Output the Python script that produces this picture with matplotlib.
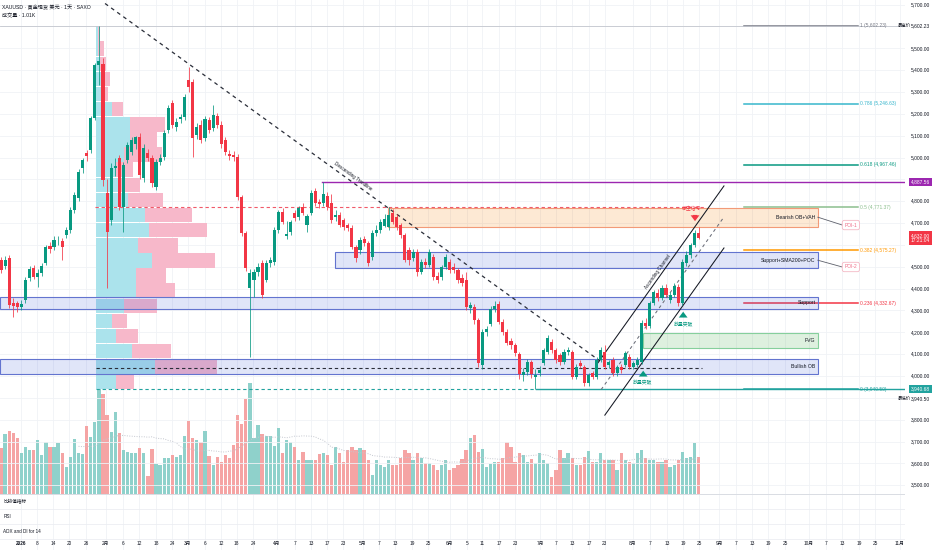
import numpy as np
import pandas as pd
import matplotlib
matplotlib.use("Agg")
import matplotlib.pyplot as plt
from matplotlib.patches import Rectangle
from matplotlib.transforms import blended_transform_factory as blend

plt.rcParams['font.family'] = ['Liberation Sans', 'Noto Sans CJK SC', 'DejaVu Sans']

# ---------------- data (daily candles, index 0 = first visible bar) ----------------
opens = [4530, 4503, 4540, 4334, 4332, 4318, 4348, 4449, 4494, 4455, 4471, 4517, 4595, 4590, 4616, 4618,
         4645, 4668, 4760, 4815, 4952, 5021, 5034, 5181, 5423, 5430, 4838, 4714, 4950, 4998, 4774, 4989,
         5025, 5060, 5094, 4906, 5021, 4998, 4865, 4979, 5002, 5126, 5250, 5140, 5176, 5185, 5355, 5346,
         5103, 5149, 5089, 5172, 5135, 5190, 5150, 5080, 5016, 5011, 5002, 4819, 4655, 4403, 4440, 4476,
         4517, 4440, 4517, 4522, 4668, 4751, 4640, 4659, 4746, 4728, 4774, 4690, 4746, 4847, 4796, 4792,
         4824, 4790, 4728, 4737, 4714, 4691, 4677, 4590, 4577, 4627, 4609, 4545, 4655, 4670, 4687, 4682,
         4746, 4728, 4691, 4645, 4577, 4540, 4568, 4476, 4522, 4510, 4545, 4460, 4453, 4499, 4522, 4500,
         4485, 4450, 4440, 4311, 4316, 4256, 4050, 4201, 4240, 4305, 4330, 4247, 4201, 4160, 4140, 4100,
         4005, 4018, 4064, 3995, 4014, 4060, 4110, 4156, 4119, 4095, 4064, 4110, 4110, 3995, 4060, 4041,
         3968, 4014, 3995, 4073, 4110, 4050, 4073, 4014, 4041, 4050, 4087, 4041, 4050, 4064, 4243, 4228,
         4334, 4380, 4357, 4403, 4348, 4371, 4407, 4334, 4517, 4554, 4600, 4655]
highs = [4545, 4550, 4555, 4355, 4345, 4348, 4452, 4502, 4508, 4488, 4515, 4600, 4612, 4640, 4640, 4632,
         4680, 4772, 4840, 4946, 5000, 5035, 5192, 5432, 5602.23, 5455, 4900, 4975, 5000, 5010, 4980, 5070,
         5095, 5100, 5110, 5060, 5040, 5010, 4995, 5015, 5125, 5240, 5265, 5180, 5200, 5290, 5414, 5360,
         5160, 5170, 5190, 5185, 5240, 5205, 5165, 5095, 5035, 5030, 5015, 4830, 4665, 4490, 4490, 4515,
         4530, 4530, 4545, 4680, 4762, 4770, 4710, 4715, 4760, 4780, 4790, 4740, 4850, 4860, 4810, 4888,
         4840, 4835, 4760, 4750, 4725, 4700, 4690, 4600, 4635, 4640, 4620, 4670, 4690, 4720, 4740, 4775,
         4765, 4740, 4700, 4655, 4590, 4580, 4580, 4535, 4540, 4580, 4560, 4475, 4510, 4560, 4535, 4515,
         4495, 4465, 4475, 4340, 4330, 4265, 4215, 4230, 4320, 4345, 4345, 4260, 4215, 4175, 4150, 4110,
         4035, 4080, 4075, 4030, 4045, 4130, 4190, 4170, 4130, 4105, 4125, 4135, 4120, 4055, 4075, 4050,
         4015, 4025, 4085, 4135, 4140, 4075, 4085, 4050, 4055, 4115, 4100, 4070, 4085, 4255, 4265, 4345,
         4395, 4400, 4415, 4420, 4385, 4425, 4420, 4535, 4570, 4610, 4668, 4682]
lows = [4470, 4490, 4310, 4270, 4295, 4300, 4335, 4435, 4445, 4407, 4460, 4508, 4565, 4578, 4598, 4531,
        4630, 4655, 4748, 4800, 4930, 4985, 5020, 5170, 5330, 4870, 4403, 4690, 4915, 4760, 4659, 4975,
        5010, 5040, 4900, 4890, 4985, 4865, 4850, 4965, 4990, 5110, 5135, 5120, 5160, 5172, 5300, 5002,
        5085, 5065, 5075, 5110, 5120, 5135, 5045, 5010, 4990, 4985, 4805, 4640, 4480, 4087, 4360, 4460,
        4355, 4430, 4500, 4510, 4655, 4695, 4625, 4645, 4710, 4715, 4735, 4660, 4735, 4780, 4770, 4780,
        4760, 4700, 4710, 4680, 4670, 4665, 4580, 4520, 4560, 4595, 4505, 4530, 4640, 4655, 4680, 4670,
        4695, 4670, 4630, 4520, 4510, 4525, 4460, 4465, 4495, 4500, 4440, 4425, 4440, 4490, 4470, 4470,
        4425, 4410, 4300, 4290, 4240, 4040, 4030, 4185, 4230, 4295, 4240, 4190, 4140, 4125, 4090, 3985,
        3975, 4005, 3990, 3940.5, 4000, 4050, 4100, 4105, 4060, 4050, 4055, 4095, 3985, 3985, 4035, 3955,
        3955, 3985, 3985, 4065, 4030, 4035, 4000, 4000, 4015, 4040, 4030, 4030, 4040, 4055, 4215, 4220,
        4325, 4345, 4350, 4360, 4335, 4360, 4320, 4325, 4505, 4540, 4590, 4625]
closes = [4485, 4531, 4325, 4320, 4316, 4330, 4439, 4490, 4453, 4470, 4503, 4590, 4581, 4622, 4618, 4590,
          4668, 4760, 4828, 4934, 4989, 5007, 5181, 5423, 5440, 4897, 4660, 4952, 4962, 4774, 4966, 5057,
          5080, 5094, 4920, 5044, 4998, 4883, 4979, 4998, 5112, 5227, 5149, 5163, 5185, 5277, 5323, 5089,
          5140, 5080, 5176, 5126, 5195, 5150, 5060, 5025, 5007, 5002, 4819, 4655, 4494, 4471, 4476, 4499,
          4371, 4517, 4530, 4668, 4751, 4705, 4652, 4705, 4723, 4769, 4746, 4732, 4838, 4792, 4787, 4833,
          4774, 4714, 4737, 4691, 4682, 4677, 4590, 4540, 4622, 4609, 4517, 4655, 4668, 4705, 4719, 4737,
          4705, 4682, 4645, 4531, 4531, 4568, 4476, 4522, 4508, 4568, 4453, 4440, 4499, 4545, 4485, 4485,
          4439, 4426, 4316, 4325, 4256, 4059, 4201, 4215, 4305, 4320, 4247, 4201, 4151, 4140, 4105, 4010,
          4018, 4064, 4010, 4005, 4027, 4119, 4174, 4119, 4073, 4064, 4110, 4119, 3995, 4041, 4045, 3968,
          4005, 3995, 4073, 4119, 4041, 4064, 4014, 4041, 4027, 4105, 4041, 4059, 4073, 4243, 4228, 4334,
          4384, 4357, 4403, 4371, 4371, 4412, 4334, 4522, 4554, 4600, 4655, 4632]
volumes_k = [46, 60, 63, 61, 56, 41, 47, 44, 44, 54, 39, 52, 47, 47, 51, 41, 27, 37, 55, 41, 40, 68, 57, 72,
             109, 100, 79, 62, 82, 61, 44, 42, 41, 41, 46, 41, 18, 45, 30, 29, 36, 36, 39, 37, 39, 58, 73, 56,
             54, 52, 63, 38, 29, 37, 32, 39, 36, 49, 79, 70, 95, 111, 56, 69, 60, 58, 58, 48, 66, 41, 54, 52,
             47, 34, 42, 34, 34, 34, 40, 41, 39, 29, 47, 41, 32, 44, 47, 44, 46, 44, 34, 19, 34, 29, 27, 34,
             29, 29, 36, 44, 41, 34, 41, 36, 31, 31, 29, 24, 29, 34, 24, 26, 29, 35, 44, 56, 59, 42, 45, 27,
             30, 32, 32, 36, 52, 47, 32, 41, 39, 32, 35, 31, 41, 34, 31, 17, 24, 44, 36, 41, 36, 29, 29, 37,
             43, 32, 32, 41, 34, 34, 34, 24, 41, 34, 32, 31, 41, 44, 36, 34, 34, 32, 32, 34, 27, 29, 34, 42,
             36, 37, 51, 37]

# fixed-range volume profile (rows from low to high)
profile_up = [20, 59, 36, 20, 16, 28, 40, 40, 56, 42, 53, 49, 32, 22, 20, 28, 34, 34, 16, 6, 6, 4, 2, 2]
profile_down = [18, 62, 39, 22, 15, 33, 39, 30, 63, 40, 58, 47, 35, 22, 17, 38, 27, 35, 11, 6, 8, 6, 6, 2]
profile_low, profile_high = 3940.50, 5602.23

price_ticks = [5700, 5500, 5400, 5300, 5200, 5100, 5000, 4800, 4700, 4500, 4400, 4300, 4200, 4100, 4000,
               3800, 3700, 3600, 3500]
grid_prices = list(range(3500, 5800, 100))

date_labels = ['2026', '8', '14', '20', '26', '2月', '6', '12', '18', '24', '3月', '6', '12', '18', '24',
               '4月', '7', '13', '17', '23', '5月', '7', '13', '19', '25', '6月', '5', '11', '17', '23',
               '7月', '7', '13', '17', '23', '8月', '7', '13', '19', '25', '9月', '7', '13', '19', '25',
               '10月', '7', '13', '19', '25', '11月']
date_pos = [4.9, 8.8, 12.7, 16.7, 20.8, 25.7, 29.9, 33.8, 38.0, 41.9, 45.8, 50.0, 53.9, 57.8, 61.8,
            67.6, 72.1, 76.0, 79.9, 83.8, 88.7, 92.6, 96.6, 100.7, 104.7, 110.0, 114.2, 117.9, 122.1, 126.0,
            132.1, 136.0, 140.0, 144.1, 148.0, 154.9, 159.1, 163.2, 167.2, 171.1, 176.0, 180.1, 184.1, 188.0,
            192.2, 198.0, 202.2, 206.1, 210.3, 214.2, 220.3]

fib_ratios = ['1', '0.786', '0.618', '0.5', '0.382', '0.236', '0']
fib_prices = [5602.23, 5246.63, 4967.46, 4771.37, 4575.27, 4332.67, 3940.50]
fib_colors = ['#787b86', '#37b6cc', '#089981', '#8cbf8e', '#ff9800', '#f23645', '#22a39f']

zone_names = ['Bearish OB+VAH', 'Support+SMA200+POC', 'Support', 'FVG', 'Bullish OB']
zone_start = [94.9, 81.9, -0.3, 157.4, -0.3]
zone_low = [4682, 4494, 4307, 4128, 4009]
zone_high = [4771, 4567, 4362, 4197, 4078]
zone_kind = ['bear', 'blue', 'blue', 'fvg', 'blue']
zone_end = 200.2

trend_pts = [(25.5, 5705), (146.8, 4069)]
chan_upper = [(146.1, 4055), (177.2, 4870)]
chan_mid = [(147.1, 3938), (177.2, 4728)]
chan_lower = [(148.0, 3821), (177.2, 4586)]

red_dash_price, black_dash_price, purple_price = 4773, 4037, 4887.56
high_price, low_price = 5602.23, 3940.50
last_price = closes[-1]

# ---------------- figure / layout ----------------
W, H = 932, 550
PANE_R, PANE_B = 905, 494
fig = plt.figure(figsize=(W / 100, H / 100), dpi=100)
fig.patch.set_facecolor('white')
rect = [0, (H - PANE_B) / H, PANE_R / W, PANE_B / H]
axv = fig.add_axes(rect, zorder=0)
ax = fig.add_axes(rect, zorder=1)
ax.patch.set_visible(False)
axb = fig.add_axes([0, 0, PANE_R / W, (H - PANE_B) / H], zorder=0)

XL = (-0.245, 221.57)
for a in (ax, axv, axb):
    a.set_xlim(*XL)
    for s in a.spines.values():
        s.set_visible(False)
    a.set_xticks([]); a.set_yticks([])
ax.set_ylim(3460, 5721)
axv.set_ylim(0, 494)
axb.set_ylim(0, 1)

GREEN, RED = '#089981', '#f23645'
TXT = '#131722'
FS = 3.5

# grid
for p in grid_prices:
    ax.axhline(p, color='#f0f2f6', lw=0.6, zorder=0)
for x in date_pos:
    axv.axvline(x, color='#f0f2f6', lw=0.6, zorder=0)
    axb.axvline(x, color='#f0f2f6', lw=0.6, zorder=0, ymax=0.98)

# volume
k = np.arange(len(closes))
o, h, l, c = map(np.array, (opens, highs, lows, closes))
up = c >= o
vol = np.array(volumes_k, dtype=float)
axv.bar(k, vol, width=0.8, color=np.where(up, '#8fd1cb', '#f5a4a4'), linewidth=0, zorder=1)
vma = pd.Series(vol).rolling(20).mean()
axv.plot(k, vma, color='#c4c7cf', lw=0.7, ls=(0, (1, 1.5)), zorder=2)

# volume profile
nb = len(profile_up)
edges = np.linspace(profile_low, profile_high, nb + 1)
centers = (edges[:-1] + edges[1:]) / 2
bh = edges[1] - edges[0]
anchor, scale = 23.3, 1 / 4.08
pu = np.array(profile_up) * scale
pd_ = np.array(profile_down) * scale
ax.barh(centers, pu, left=anchor, height=bh * 0.96, color='#abe3ec', linewidth=0, zorder=1)
ax.barh(centers, pd_, left=anchor + pu, height=bh * 0.96, color='#f7b8ca', linewidth=0, zorder=1)

# fib lines (right side)
fx0, fx1 = 182.1, 210.0
for lab, pr, col in zip(fib_ratios, fib_prices, fib_colors):
    ax.plot([fx0, fx1], [pr, pr], color=col, lw=1.1, zorder=2)
    ax.text(fx1 + 0.5, pr, f"{lab} ({pr:,.2f})", color=col, fontsize=FS, va='center', ha='left', zorder=6)

# zones
styles = {'bear': ((0.96, 0.49, 0.0, 0.17), '#f29a78'),
          'blue': ((0.25, 0.37, 0.85, 0.16), '#6374cf'),
          'fvg': ((0.30, 0.69, 0.31, 0.18), '#86cf9c')}
for name, x0, lo, hi, kind in zip(zone_names, zone_start, zone_low, zone_high, zone_kind):
    fc, ec = styles[kind]
    ax.add_patch(Rectangle((x0, lo), zone_end - x0, hi - lo, facecolor=fc, edgecolor=ec, lw=0.8, zorder=2.5))
    ax.text(zone_end - 0.6, (lo + hi) / 2, name, fontsize=FS + 0.2, color=TXT, ha='right', va='center', zorder=6)

# horizontal reference lines
ax.plot([XL[0], XL[1]], [high_price, high_price], color='#c3c6ce', lw=0.6, zorder=2)
ax.plot([23.0, 172.5], [red_dash_price] * 2, color='#f05a6a', lw=0.8, ls=(0, (3, 2.5)), zorder=3)
ax.plot([23.3, 171.8], [black_dash_price] * 2, color='#2a2e39', lw=0.8, ls=(0, (3, 2.5)), zorder=3)
ax.plot([23.3, 131.1], [low_price] * 2, color='#22a39f', lw=0.8, ls=(0, (3, 2.5)), zorder=3)
ax.plot([131.1, XL[1]], [low_price] * 2, color='#22a39f', lw=1.0, zorder=3)
ax.plot([78.7, XL[1]], [purple_price] * 2, color='#9c27b0', lw=1.0, zorder=3)

# trendline and channel
(tx0, ty0), (tx1, ty1) = trend_pts
ax.plot([tx0, tx1], [ty0, ty1], color='#2a2e39', lw=0.9, ls=(0, (3, 3)), zorder=3)
for pts, ls, colr in ((chan_upper, '-', '#131722'), (chan_mid, (0, (3, 3)), '#6a6d78'), (chan_lower, '-', '#131722')):
    ax.plot([pts[0][0], pts[1][0]], [pts[0][1], pts[1][1]], color=colr, lw=0.75, ls=ls, zorder=3)


def screen_angle(p0, p1):
    a = ax.transData.transform(p0); b = ax.transData.transform(p1)
    return np.degrees(np.arctan2(b[1] - a[1], b[0] - a[0]))


ang = screen_angle(*trend_pts)
tk = 86.3
tp = ty0 + (ty1 - ty0) * (tk - tx0) / (tx1 - tx0) + 28
ax.text(tk, tp, 'Descending Trendline', rotation=ang, rotation_mode='anchor', fontsize=FS - 0.2,
        color=TXT, ha='center', va='center', zorder=6)
ang2 = screen_angle(*chan_upper)
ck = 161.0
cp = chan_upper[0][1] + (chan_upper[1][1] - chan_upper[0][1]) * (ck - chan_upper[0][0]) / (chan_upper[1][0] - chan_upper[0][0]) + 30
ax.text(ck, cp, 'Ascending Channel', rotation=ang2, rotation_mode='anchor', fontsize=FS - 0.2,
        color=TXT, ha='center', va='center', zorder=6)

# candles
col = np.where(up, GREEN, RED)
ax.vlines(k, l, h, colors=col, linewidth=0.55, zorder=4)
ax.bar(k, np.maximum(np.abs(c - o), 3), bottom=np.minimum(o, c), width=0.76, color=col, linewidth=0, zorder=4.1)

# signals
signals = [('做空信号', 169.4, 4766, RED), ('放量突破', 157.2, 3968, GREEN), ('放量突破', 167.2, 4234, GREEN)]
arrows = [(170.1, 4750, 4696, RED), (157.4, 3986, 4037, GREEN), (167.2, 4260, 4307, GREEN)]
for txt, x, y, colr in signals:
    ax.text(x, y, txt, color=colr, fontsize=FS, ha='center', va='center', zorder=6)
for x, ytail, ytip, colr in arrows:
    ax.annotate('', xy=(x, ytip), xytext=(x, ytail), zorder=6,
                arrowprops=dict(arrowstyle='simple,head_width=0.9,head_length=0.6,tail_width=0.45',
                                color=colr, lw=0, mutation_scale=7))

# POI callouts
poi = [('POI-1', 4727, 4691), ('POI-2', 4530, 4499)]
for name, p_from, p_to in poi:
    ax.plot([zone_end, 206.2], [p_from, p_to], color='#5d606b', lw=0.6, zorder=5)
    ax.text(208.3, p_to, name, fontsize=FS, color='#ef6b86', ha='center', va='center', zorder=6,
            bbox=dict(boxstyle='round,pad=0.45,rounding_size=0.4', fc='white', ec='#f4b8c4', lw=0.6))

# right price axis
tr = blend(ax.transAxes, ax.transData)
XR = 930 / PANE_R
for p in price_ticks:
    ax.text(XR, p, f"{p:,.2f}", transform=tr, fontsize=FS, color=TXT, ha='right', va='center', clip_on=False)
ax.text(XR, high_price, f"{high_price:,.2f}", transform=tr, fontsize=FS, color=TXT, ha='right', va='center', clip_on=False)
ax.text(911 / PANE_R, high_price, '最高价', transform=tr, fontsize=FS - 0.3, color=TXT, ha='right', va='center', clip_on=False)
ax.text(XR, 3895, f"{low_price:,.2f}", transform=tr, fontsize=FS, color=TXT, ha='right', va='center', clip_on=False)
ax.text(911 / PANE_R, 3895, '最低价', transform=tr, fontsize=FS - 0.3, color=TXT, ha='right', va='center', clip_on=False)
for val, fc, txt in ((purple_price, '#9c27b0', f"{purple_price:,.2f}"),
                     (low_price, '#22a39f', "3,940.68"),
                     (last_price, RED, f"{last_price:,.2f}\n17:21:04")):
    ax.text(XR, val, txt, transform=tr, fontsize=FS, color='white', ha='right', va='center', clip_on=False,
            linespacing=1.0, bbox=dict(boxstyle='square,pad=0.35', fc=fc, ec='none'))

# header
fig.text(2 / W, 1 - 7 / H, 'XAUUSD · 黄金现货 美元 · 1天 · SAXO', fontsize=FS + 0.2, color=TXT, va='center')
fig.text(2 / W, 1 - 15.5 / H, '成交量 · 1.01K', fontsize=FS + 0.2, color=TXT, va='center')

# bottom strip: indicator rows + date axis
tb = blend(axb.transData, axb.transAxes)
axb.axhline(1.0, color='#d9dce3', lw=0.7)
for yy in (0.736, 0.464, 0.2):
    axb.axhline(yy, color='#eceef2', lw=0.6)
for yy, lab in ((0.873, '比较值指标'), (0.6, 'RSI'), (0.327, 'ADX and DI for 14')):
    axb.text(0.6, yy, lab, fontsize=FS - 0.2, color=TXT, ha='left', va='center')
for x, lab in zip(date_pos, date_labels):
    axb.text(x, 0.109, lab, fontsize=FS - 0.1, color=TXT, ha='center', va='center',
             fontweight='bold' if lab == '2026' else 'normal')

fig.savefig('out.png', dpi=100, facecolor='white')
